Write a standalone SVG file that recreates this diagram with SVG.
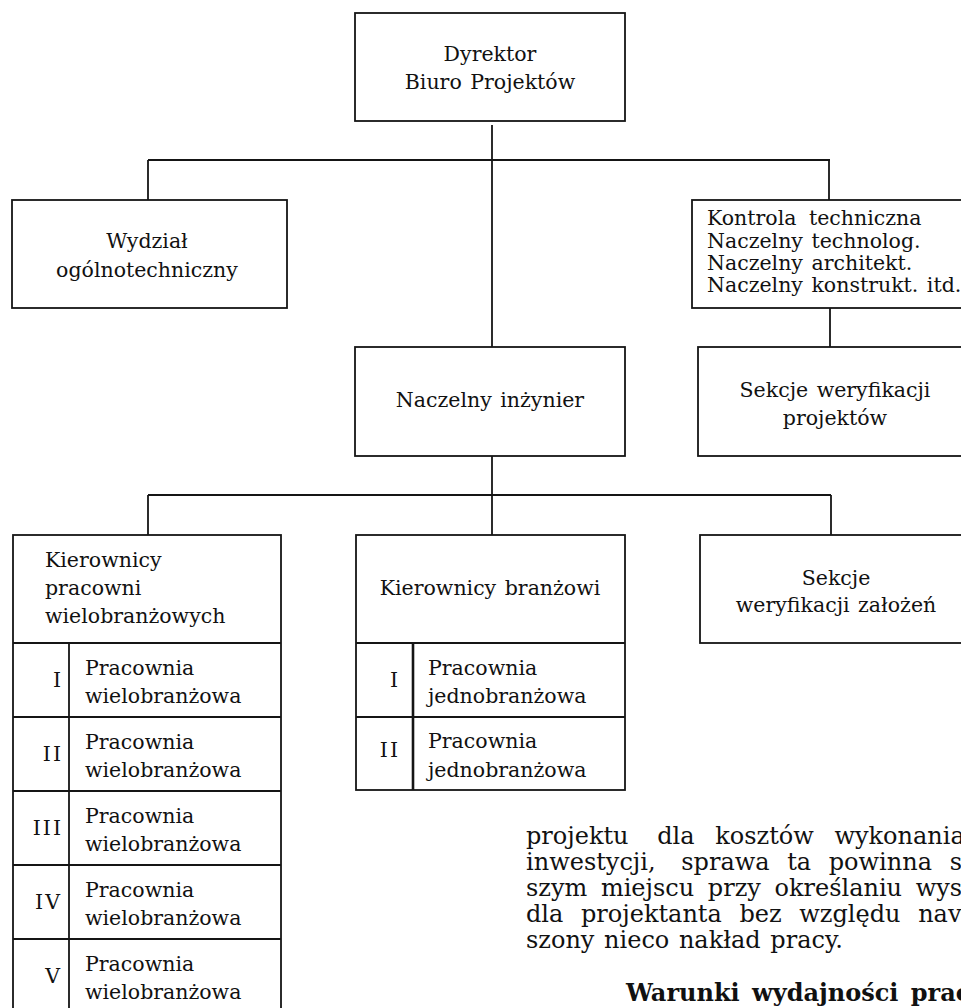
<svg xmlns="http://www.w3.org/2000/svg" width="961" height="1008" viewBox="0 0 961 1008">
<style>
.bx{fill:none;stroke:#151515;stroke-width:1.8}
.ln{stroke:#151515;stroke-width:1.8;fill:none}
.thick{stroke:#151515;stroke-width:2.6}
text{font-family:"DejaVu Serif","Liberation Serif",serif;font-size:20.5px;word-spacing:2px;fill:#111111}
.c{text-anchor:middle}
.r{text-anchor:end}
.num{text-anchor:end;letter-spacing:2px}
.body{font-size:24px}
.bold{font-size:24px;font-weight:bold;word-spacing:4px}
</style>
<rect width="961" height="1008" fill="#ffffff"/>
<g id="connectors">
<line class="ln" x1="492" y1="125" x2="492" y2="160"/>
<line class="ln" x1="148" y1="160" x2="830" y2="160"/>
<line class="ln" x1="148" y1="160" x2="148" y2="200"/>
<line class="ln" x1="492" y1="160" x2="492" y2="347"/>
<line class="ln" x1="829" y1="160" x2="829" y2="200"/>
<line class="ln" x1="830" y1="308" x2="830" y2="347"/>
<line class="ln" x1="492" y1="456" x2="492" y2="495"/>
<line class="ln" x1="148" y1="495" x2="831" y2="495"/>
<line class="ln" x1="148" y1="495" x2="148" y2="535"/>
<line class="ln" x1="492" y1="495" x2="492" y2="535"/>
<line class="ln" x1="831" y1="495" x2="831" y2="535"/>
</g>
<g id="dyrektor">
<rect class="bx" x="355" y="13" width="270" height="108"/>
<text class="c" x="490" y="61">Dyrektor</text>
<text class="c" x="490" y="89">Biuro Projektów</text>
</g>
<g id="wydzial">
<rect class="bx" x="12" y="200" width="275" height="108"/>
<text class="c" x="147" y="248">Wydział</text>
<text class="c" x="147" y="277">ogólnotechniczny</text>
</g>
<g id="kontrola">
<rect class="bx" x="692" y="200" width="290" height="108"/>
<text x="707" y="225" style="word-spacing:6px">Kontrola techniczna</text>
<text x="707" y="248">Naczelny technolog.</text>
<text x="707" y="270">Naczelny architekt.</text>
<text x="707" y="292">Naczelny konstrukt. itd.</text>
</g>
<g id="naczelny-inzynier">
<rect class="bx" x="355" y="347" width="270" height="109"/>
<text class="c" x="490" y="407">Naczelny inżynier</text>
</g>
<g id="sekcje-projektow">
<rect class="bx" x="698" y="347" width="290" height="109"/>
<text class="c" x="835" y="397">Sekcje weryfikacji</text>
<text class="c" x="835" y="425">projektów</text>
</g>
<g id="kierownicy-pracowni">
<rect class="bx" x="13" y="535" width="268" height="490"/>
<line class="ln" x1="13" y1="643" x2="281" y2="643"/>
<text x="45" y="567">Kierownicy</text>
<text x="45" y="595">pracowni</text>
<text x="45" y="623">wielobranżowych</text>
<line class="ln" x1="69" y1="643" x2="69" y2="1010"/>
<line class="ln" x1="13" y1="717" x2="281" y2="717"/>
<line class="ln" x1="13" y1="791" x2="281" y2="791"/>
<line class="ln" x1="13" y1="865" x2="281" y2="865"/>
<line class="ln" x1="13" y1="939" x2="281" y2="939"/>
<text class="num" x="63" y="687">I</text>
<text x="85" y="675">Pracownia</text>
<text x="85" y="703">wielobranżowa</text>
<text class="num" x="63" y="761">II</text>
<text x="85" y="749">Pracownia</text>
<text x="85" y="777">wielobranżowa</text>
<text class="num" x="63" y="835">III</text>
<text x="85" y="823">Pracownia</text>
<text x="85" y="851">wielobranżowa</text>
<text class="num" x="62" y="909">IV</text>
<text x="85" y="897">Pracownia</text>
<text x="85" y="925">wielobranżowa</text>
<text class="num" x="62" y="983">V</text>
<text x="85" y="971">Pracownia</text>
<text x="85" y="999">wielobranżowa</text>
</g>
<g id="kierownicy-branzowi">
<rect class="bx" x="356" y="535" width="269" height="255"/>
<line class="ln" x1="356" y1="643" x2="625" y2="643"/>
<text class="c" x="490" y="595">Kierownicy branżowi</text>
<line class="thick" x1="413" y1="643" x2="413" y2="790"/>
<line class="ln" x1="356" y1="717" x2="625" y2="717"/>
<text class="num" x="400" y="687">I</text>
<text x="428" y="675">Pracownia</text>
<text x="428" y="703">jednobranżowa</text>
<text class="num" x="400" y="757">II</text>
<text x="428" y="748">Pracownia</text>
<text x="428" y="777">jednobranżowa</text>
</g>
<g id="sekcje-zalozen">
<rect class="bx" x="700" y="535" width="290" height="108"/>
<text class="c" x="836" y="585">Sekcje</text>
<text class="c" x="836" y="612">weryfikacji założeń</text>
</g>
<g id="body-text">
<text class="body" x="526" y="844" style="word-spacing:13px">projektu<tspan dx="8"> dla</tspan> kosztów wykonania</text>
<text class="body" x="526" y="870" style="word-spacing:10px">inwestycji,<tspan dx="8"> sprawa</tspan> ta powinna s</text>
<text class="body" x="526" y="896" style="word-spacing:6px">szym miejscu przy określaniu wys</text>
<text class="body" x="526" y="922" style="word-spacing:10px">dla projektanta bez względu nav</text>
<text class="body" x="526" y="948" style="word-spacing:2px">szony nieco nakład pracy.</text>
<text class="bold" x="626" y="1001">Warunki wydajności prac</text>
</g>
</svg>
